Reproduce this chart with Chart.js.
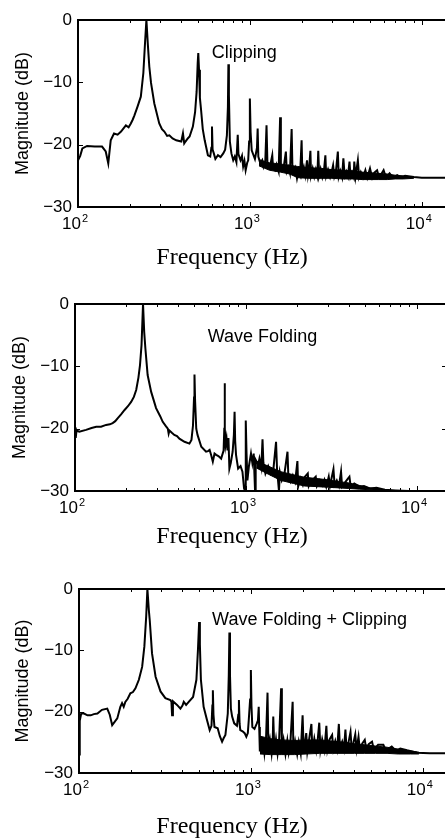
<!DOCTYPE html>
<html lang="en">
<head>
<meta charset="UTF-8" />
<title>Spectra - Clipping / Wave Folding</title>
<script src="https://cdn.jsdelivr.net/npm/chart.js"></script>
<style>
  html, body { margin: 0; padding: 0; background: #fff; overflow: hidden; }
  body { width: 445px; height: 839px; position: relative; }
  canvas { position: absolute; left: 0; }
</style>
</head>
<body>
<canvas id="clip" width="452" height="280" style="top:0"></canvas>
<canvas id="fold" width="447" height="280" style="top:280px"></canvas>
<canvas id="both" width="453" height="279" style="top:560px"></canvas>
<script>
// values: frequency in Hz, magnitude in dB
const clipFreq = [100, 103, 106, 113, 125, 138, 145, 150, 155, 162, 170, 178, 184, 190, 197, 203, 208, 213, 222, 232, 240, 246, 250, 255, 260, 266, 278, 297, 308, 318, 330, 340, 355, 373, 399, 408, 415, 422, 435, 446, 466, 480, 490, 497, 501, 506, 512, 520, 532, 546, 570, 588, 597, 602, 607, 617, 630, 652, 675, 700, 718, 735, 745, 750, 755, 765, 781, 800, 817, 835, 850, 858, 882, 900, 914, 930, 945, 965, 978, 990, 1000, 1010, 1025, 1050, 1070, 1100, 1110, 1120, 1150, 1180, 1200, 1230, 1250, 1265, 1290, 1320, 1350, 1365, 1400, 1430, 1470, 1500, 1515, 1550, 1580, 1620, 1640, 1680, 1710, 1750, 1770, 1800, 1840, 1880, 1920, 1960, 2000, 2020, 2060, 2100, 2150, 2180, 2210, 2250, 2270, 2320, 2370, 2420, 2470, 2500, 2530, 2580, 2640, 2700, 2750, 2780, 2850, 2930, 3000, 3050, 3100, 3170, 3250, 3290, 3360, 3440, 3500, 3560, 3640, 3720, 3800, 3850, 3930, 4020, 4050, 4120, 4250, 4320, 4420, 4550, 4700, 4820, 5000, 5150, 5300, 5500, 5650, 6000, 6200, 6500, 6800, 7200, 7600, 8000, 9000, 10000, 12000, 15000];
const clipMag = [-22.5, -21.8, -20.6, -20.2, -20.3, -20.3, -21.1, -23.0, -19.3, -18.2, -18.4, -17.9, -17.4, -16.9, -17.2, -16.6, -16.0, -15.3, -13.9, -12.3, -8.5, -3.2, 0, -4.0, -7.5, -10.1, -13.4, -16.6, -17.5, -17.9, -18.6, -18.5, -19.0, -19.3, -19.5, -18.2, -19.8, -19.5, -19.0, -18.7, -17.1, -14.8, -11.5, -7.0, -5.3, -8.0, -12.5, -14.4, -17.5, -19.3, -21.7, -21.9, -20.5, -17.1, -20.8, -21.4, -22.3, -21.7, -22.0, -21.4, -20.8, -18.5, -14.0, -7.1, -12.0, -19.5, -21.4, -22.5, -21.9, -22.8, -18.4, -21.5, -22.5, -21.8, -23.5, -22.6, -24.1, -22.9, -22.5, -19.5, -12.6, -18.0, -20.9, -21.7, -22.3, -20.5, -17.4, -21.9, -23.0, -22.5, -23.5, -22.6, -16.9, -22.9, -23.5, -23.0, -21.7, -23.8, -24.1, -23.2, -24.3, -15.6, -23.6, -24.1, -23.3, -21.1, -24.3, -23.6, -24.5, -17.5, -24.2, -24.6, -23.8, -25.4, -24.1, -24.8, -19.3, -24.5, -23.6, -24.9, -22.5, -24.9, -23.9, -21.0, -24.9, -23.8, -25.1, -24.0, -25.0, -21.0, -24.9, -23.9, -25.2, -24.1, -21.7, -25.0, -24.0, -25.2, -24.2, -23.3, -25.1, -24.2, -21.1, -25.1, -24.2, -25.2, -22.2, -25.0, -24.3, -25.1, -22.7, -25.1, -24.4, -25.2, -22.7, -25.1, -22.5, -25.2, -24.4, -25.3, -24.1, -25.3, -23.8, -25.3, -24.5, -24.1, -25.3, -24.1, -25.3, -24.6, -25.3, -24.9, -25.3, -25.0, -25.2, -25.3, -25.3, -25.3];
// dense noise floor: upper and lower edge of the black band
const clipBandFreq = [1130, 1300, 1500, 1700, 1900, 2200, 2600, 3000, 3500, 4000, 4500, 5000, 5600, 6300, 7000, 7800, 9000];
const clipBandTop = [-22.4, -22.9, -23.1, -23.3, -23.5, -23.7, -23.8, -24.0, -24.1, -24.2, -24.4, -24.5, -24.6, -24.7, -24.9, -25.0, -25.2];
const clipBandBot = [-23.4, -24.1, -24.4, -24.7, -25.3, -25.4, -25.4, -25.4, -25.5, -25.5, -25.6, -25.6, -25.6, -25.6, -25.5, -25.5, -25.4];

const foldFreq = [100, 101, 102, 106, 116, 125, 133, 142, 152, 160, 166, 172, 178, 186, 195, 204, 213, 221, 228, 235, 240, 245, 250, 254, 258, 266, 279, 298, 315, 326, 340, 349, 353, 357, 370, 381, 395, 408, 437, 467, 480, 490, 497, 500, 504, 512, 521, 548, 584, 600, 613, 625, 640, 655, 670, 690, 716, 740, 747, 750, 754, 760, 770, 780, 790, 800, 815, 836, 850, 858, 865, 875, 900, 930, 954, 975, 990, 995, 1000, 1008, 1020, 1040, 1070, 1090, 1110, 1130, 1140, 1180, 1200, 1230, 1250, 1265, 1300, 1350, 1400, 1450, 1500, 1520, 1560, 1580, 1620, 1680, 1750, 1770, 1820, 1880, 1940, 2000, 2020, 2080, 2150, 2200, 2300, 2330, 2420, 2500, 2560, 2600, 2700, 2800, 2880, 2950, 3050, 3100, 3250, 3300, 3400, 3500, 3600, 3650, 3800, 3950, 4030, 4100, 4300, 4620, 4900, 5300, 5800, 6500, 7500, 9000, 15000];
const foldMag = [-19.8, -21.5, -20.3, -20.5, -20.2, -19.9, -19.7, -19.7, -19.4, -19.3, -19.1, -18.8, -18.3, -17.7, -17.0, -16.4, -15.7, -14.9, -13.8, -11.8, -9.8, -6.6, 0, -4.5, -7.1, -11.4, -14.1, -16.7, -18.0, -18.9, -19.6, -20.0, -20.8, -20.3, -20.7, -21.0, -21.2, -21.6, -22.1, -22.4, -21.8, -19.5, -15.0, -11.3, -15.5, -20.0, -21.0, -22.9, -23.7, -23.6, -23.4, -24.2, -25.3, -24.0, -24.2, -24.4, -24.8, -23.5, -20.0, -12.7, -20.0, -22.6, -21.6, -23.5, -21.5, -26.4, -25.5, -23.7, -21.0, -17.3, -22.0, -24.2, -26.4, -26.0, -26.9, -29.6, -30.0, -25.0, -18.7, -24.0, -28.3, -26.1, -24.0, -25.5, -24.0, -29.9, -25.0, -25.8, -24.8, -26.2, -21.7, -25.5, -27.2, -26.0, -27.2, -26.3, -22.1, -26.5, -30.0, -27.0, -28.3, -27.2, -23.7, -27.6, -28.5, -27.5, -28.5, -25.2, -29.3, -28.0, -29.0, -27.8, -27.2, -29.2, -28.2, -28.0, -27.7, -29.2, -28.3, -29.1, -28.2, -29.3, -27.7, -29.2, -26.5, -29.0, -28.3, -29.2, -26.9, -29.3, -28.6, -28.0, -27.7, -29.3, -28.8, -29.3, -29.2, -29.6, -29.5, -29.8, -29.9, -30.0, -30.0];
const foldBandFreq = [1150, 1350, 1600, 1900, 2200, 2600, 3000, 3500, 4000, 4600, 5300, 6200];
const foldBandTop = [-25.2, -26.0, -26.9, -27.4, -27.8, -28.0, -28.2, -28.5, -28.7, -29.1, -29.5, -29.7];
const foldBandBot = [-26.3, -27.3, -28.3, -28.8, -29.2, -29.3, -29.4, -29.5, -29.6, -29.7, -29.8, -29.9];

const bothFreq = [100, 101, 103, 107, 112, 117, 122, 128, 136, 146, 151, 156, 162, 167, 174, 178, 182, 186, 192, 199, 206, 213, 223, 233, 240, 246, 250, 255, 258, 266, 279, 298, 318, 340, 345, 348, 352, 372, 389, 400, 407, 420, 435, 461, 482, 492, 500, 505, 512, 531, 556, 576, 590, 597, 601, 606, 614, 641, 660, 680, 695, 711, 734, 744, 750, 756, 765, 778, 800, 830, 845, 852, 860, 868, 895, 920, 941, 960, 972, 990, 1000, 1008, 1020, 1050, 1080, 1100, 1111, 1118, 1128, 1140, 1160, 1180, 1200, 1225, 1250, 1265, 1290, 1320, 1340, 1350, 1370, 1400, 1430, 1460, 1500, 1515, 1550, 1590, 1630, 1660, 1700, 1750, 1770, 1810, 1860, 1900, 1950, 2000, 2030, 2070, 2100, 2130, 2180, 2250, 2280, 2340, 2400, 2450, 2500, 2540, 2600, 2680, 2750, 2790, 2860, 2970, 3020, 3100, 3180, 3250, 3300, 3400, 3480, 3550, 3600, 3700, 3800, 3860, 3950, 4050, 4120, 4230, 4300, 4450, 4600, 4700, 4850, 5070, 5200, 5500, 5900, 6100, 6600, 7000, 7400, 8100, 9250, 11000, 15000];
const bothMag = [-27.0, -21.5, -20.3, -20.3, -20.6, -20.6, -20.4, -20.3, -19.7, -19.5, -20.5, -22.2, -21.6, -21.1, -19.2, -18.6, -19.2, -18.4, -17.9, -17.0, -16.8, -16.2, -14.8, -12.7, -9.4, -4.5, 0, -3.5, -5.1, -10.5, -14.3, -16.7, -17.8, -18.1, -18.4, -20.6, -18.3, -18.9, -19.5, -19.0, -18.4, -18.9, -18.4, -17.6, -14.8, -10.0, -5.4, -9.0, -14.8, -19.2, -21.4, -23.0, -22.3, -19.0, -16.5, -20.5, -22.5, -22.7, -24.0, -24.9, -24.3, -23.8, -20.3, -14.0, -7.1, -14.0, -19.5, -20.8, -21.9, -22.3, -20.5, -18.1, -22.0, -23.0, -23.2, -23.5, -24.1, -23.5, -21.4, -18.0, -13.2, -19.0, -22.5, -22.8, -22.0, -21.4, -19.2, -22.5, -26.5, -24.6, -26.8, -24.4, -26.7, -24.5, -16.9, -25.8, -24.5, -26.8, -24.8, -20.8, -26.5, -24.5, -26.8, -24.6, -16.2, -26.5, -24.6, -26.9, -24.7, -26.6, -24.8, -18.4, -26.9, -24.9, -26.9, -25.0, -26.8, -20.6, -26.5, -24.8, -23.5, -26.5, -24.6, -22.0, -26.4, -24.4, -26.3, -24.5, -21.8, -26.2, -24.5, -26.2, -22.3, -26.1, -24.6, -23.8, -26.1, -24.8, -26.1, -22.0, -26.0, -24.9, -26.1, -22.9, -26.0, -25.0, -23.3, -26.0, -25.1, -23.7, -26.1, -24.1, -26.1, -25.2, -24.6, -26.2, -25.3, -24.9, -26.2, -25.4, -25.4, -26.3, -25.7, -26.4, -26.0, -26.3, -26.7, -26.8, -26.8];
const bothBandFreq = [1130, 1300, 1500, 1800, 2100, 2500, 3000, 3500, 4000, 4600, 5300, 6200, 7200, 8500, 9500];
const bothBandTop = [-24.0, -24.4, -24.6, -24.7, -24.6, -24.6, -24.8, -25.0, -25.2, -25.4, -25.6, -25.8, -26.1, -26.4, -26.6];
const bothBandBot = [-26.9, -27.0, -27.0, -27.0, -26.9, -26.8, -26.8, -26.8, -26.8, -26.8, -26.8, -26.8, -26.9, -26.9, -26.9];

const yTicks = [0, -10, -20, -30];
const xDecades = [100, 1000, 10000];
const xDecadeExp = ['2', '3', '4'];

const SANS = '"Liberation Sans", Arial, Helvetica, sans-serif';
const SERIF = '"Liberation Serif", "Times New Roman", serif';
const INK = '#000';

// matlab-like box with inward ticks, 10^n labels, x label and the note inside the axes
const axesBox = {
  id: 'axesBox',
  afterDatasetsDraw(chart, args, opts) {
    const { ctx, chartArea: a, scales: { x, y } } = chart;
    ctx.save();
    ctx.strokeStyle = '#000';
    ctx.lineWidth = 2;
    ctx.strokeRect(a.left, a.top, a.right - a.left, a.bottom - a.top);

    ctx.lineWidth = 1;
    ctx.beginPath();
    for (const d of xDecades) {
      for (let k = 1; k < 10; k++) {
        const f = d * k;
        if (f < x.min || f > x.max) continue;
        const px = Math.round(x.getPixelForValue(f)) + 0.5;
        const len = k === 1 ? 5 : 3;
        ctx.moveTo(px, a.bottom); ctx.lineTo(px, a.bottom - len);
        ctx.moveTo(px, a.top); ctx.lineTo(px, a.top + len);
      }
    }
    for (const v of yTicks) {
      const py = Math.round(y.getPixelForValue(v)) + 0.5;
      ctx.moveTo(a.left, py); ctx.lineTo(a.left + 5, py);
      ctx.moveTo(a.right, py); ctx.lineTo(a.right - 5, py);
    }
    ctx.stroke();

    ctx.fillStyle = INK;
    ctx.textBaseline = 'alphabetic';
    xDecades.forEach((d, i) => {
      const px = x.getPixelForValue(d);
      ctx.font = '17px ' + SANS;
      ctx.textAlign = 'right';
      ctx.fillText('10', px + 3, a.bottom + 22);
      ctx.font = '11px ' + SANS;
      ctx.textAlign = 'left';
      ctx.fillText(xDecadeExp[i], px + 4, a.bottom + 15);
    });

    ctx.font = '24px ' + SERIF;
    ctx.textAlign = 'center';
    ctx.fillText('Frequency (Hz)', opts.xTitleX, a.bottom + opts.xTitleGap);

    ctx.font = '18px ' + SANS;
    ctx.textAlign = 'left';
    ctx.textBaseline = 'middle';
    ctx.fillText(opts.note, x.getPixelForValue(opts.noteF), y.getPixelForValue(opts.noteDb));
    ctx.restore();
  }
};

function pts(freq, mag) {
  return freq.map((f, i) => ({ x: f, y: mag[i] }));
}

function makeChart(id, s, cfg) {
  return new Chart(document.getElementById(id), {
    type: 'line',
    data: {
      datasets: [
        { data: pts(s.freq, s.mag), borderColor: '#000', borderWidth: 2, pointRadius: 0, tension: 0, fill: false },
        { data: pts(s.bandFreq, s.bandTop), borderColor: '#000', borderWidth: 1, backgroundColor: '#000', pointRadius: 0, tension: 0, fill: '+1' },
        { data: pts(s.bandFreq, s.bandBot), borderColor: '#000', borderWidth: 1, pointRadius: 0, tension: 0, fill: false }
      ]
    },
    options: {
      responsive: false,
      animation: false,
      events: [],
      layout: { padding: { top: cfg.top, bottom: cfg.bottom, left: 0, right: 0 } },
      plugins: {
        legend: { display: false },
        tooltip: { enabled: false },
        axesBox: { note: cfg.note, noteF: cfg.noteF, noteDb: cfg.noteDb, xTitleX: 232, xTitleGap: cfg.xTitleGap }
      },
      scales: {
        x: { type: 'logarithmic', min: 100, max: 15000, display: false },
        y: {
          min: -30, max: 0,
          afterFit: sc => { sc.width = cfg.left; },
          grid: { display: false, drawTicks: false },
          border: { display: false },
          ticks: {
            stepSize: 10, padding: 6, color: INK,
            font: { family: SANS, size: 17 },
            callback: v => v === 0 ? '0' : '\u2212' + Math.abs(v)
          },
          title: {
            display: true, text: 'Magnitude (dB)', color: INK,
            font: { family: SANS, size: 18 },
            padding: { top: cfg.yTitlePad, bottom: 0 }
          }
        }
      }
    },
    plugins: [axesBox]
  });
}

makeChart('clip',
  { freq: clipFreq, mag: clipMag, bandFreq: clipBandFreq, bandTop: clipBandTop, bandBot: clipBandBot },
  { left: 78, top: 20, bottom: 73, yTitlePad: 12, xTitleGap: 57, note: 'Clipping', noteF: 600, noteDb: -5.3 });
makeChart('fold',
  { freq: foldFreq, mag: foldMag, bandFreq: foldBandFreq, bandTop: foldBandTop, bandBot: foldBandBot },
  { left: 75, top: 24, bottom: 69, yTitlePad: 9, xTitleGap: 52, note: 'Wave Folding', noteF: 598, noteDb: -5.3 });
makeChart('both',
  { freq: bothFreq, mag: bothMag, bandFreq: bothBandFreq, bandTop: bothBandTop, bandBot: bothBandBot },
  { left: 79, top: 29, bottom: 66, yTitlePad: 12, xTitleGap: 60, note: 'Wave Folding + Clipping', noteF: 595, noteDb: -5.1 });
</script>
</body>
</html>
